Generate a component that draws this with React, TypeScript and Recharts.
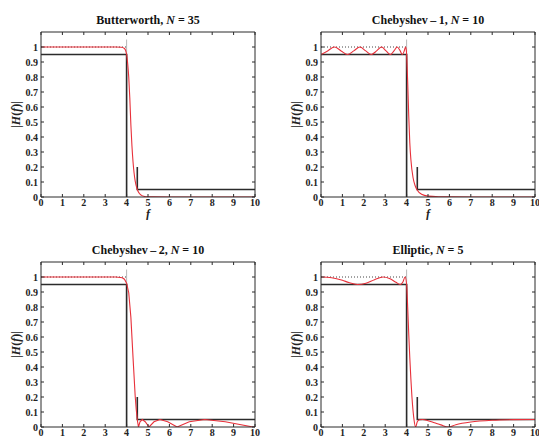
import React from 'react';
import { LineChart, Line, XAxis, YAxis } from 'recharts';

// spec mask shared by all four panels
const passMaskF = [0, 4, 4];
const passMaskH = [0.95, 0.95, 0];
const stopMaskF = [4.5, 4.5, 10];
const stopMaskH = [0.2, 0.05, 0.05];
const unityF = [0, 4];
const unityH = [1, 1];
const edgeF = [4, 4];
const edgeH = [0, 1.05];

// filter responses
const butterF = [0, 1, 2, 3, 3.5, 3.75, 3.9, 4.0, 4.05, 4.1, 4.15, 4.2, 4.25, 4.3, 4.35, 4.4, 4.5, 4.6, 4.7, 4.8, 5, 6, 8, 10];
const butterH = [1, 1, 1, 1, 1, 0.998, 0.99, 0.95, 0.89, 0.8, 0.66, 0.48, 0.34, 0.235, 0.16, 0.108, 0.05, 0.023, 0.011, 0.005, 0.001, 0, 0, 0];

const cheb1F = [0, 0.31, 0.63, 0.94, 1.24, 1.53, 1.82, 2.09, 2.35, 2.6, 2.83, 3.04, 3.24, 3.41, 3.56, 3.7, 3.8, 3.89, 3.95, 3.99, 4.0, 4.05, 4.1, 4.15, 4.2, 4.3, 4.4, 4.5, 4.7, 5.0, 5.5, 6, 8, 10];
const cheb1H = [0.95, 0.974, 1, 0.974, 0.95, 0.974, 1, 0.974, 0.95, 0.974, 1, 0.974, 0.95, 0.974, 1, 0.974, 0.95, 0.974, 1, 0.974, 0.95, 0.77, 0.54, 0.36, 0.25, 0.13, 0.075, 0.045, 0.018, 0.006, 0.002, 0.001, 0, 0];

const cheb2F = [0, 2, 3, 3.5, 3.8, 3.9, 4.0, 4.1, 4.2, 4.3, 4.4, 4.45, 4.5, 4.514, 4.556, 4.626, 4.732, 4.87, 5.05, 5.28, 5.56, 5.92, 6.36, 6.93, 7.65, 8.61, 9.91, 10];
const cheb2H = [1, 1, 1, 0.9998, 0.995, 0.985, 0.959, 0.895, 0.731, 0.464, 0.208, 0.117, 0.05, 0.035, 0, 0.035, 0.05, 0.035, 0, 0.035, 0.05, 0.035, 0, 0.035, 0.05, 0.035, 0, 0.002];

const ellipF = [0, 0.5, 1.0, 1.3, 1.7, 2.1, 2.5, 2.9, 3.2, 3.5, 3.7, 3.82, 3.93, 4.0, 4.05, 4.1, 4.15, 4.2, 4.25, 4.3, 4.35, 4.42, 4.5, 4.6, 4.75, 5.0, 5.3, 5.6, 5.95, 6.3, 7, 8, 9, 10];
const ellipH = [1, 0.995, 0.978, 0.963, 0.95, 0.958, 0.982, 1, 0.99, 0.965, 0.95, 0.965, 1, 0.95, 0.8, 0.62, 0.46, 0.32, 0.2, 0.11, 0.045, 0, 0.035, 0.048, 0.05, 0.042, 0.028, 0.014, 0, 0.015, 0.033, 0.045, 0.049, 0.05];

const xTicks = [0, 1, 2, 3, 4, 5, 6, 7, 8, 9, 10];
const yTicks = [0, 0.1, 0.2, 0.3, 0.4, 0.5, 0.6, 0.7, 0.8, 0.9, 1];

const zip = (f: number[], h: number[]) => f.map((x, i) => ({ f: x, h: h[i] }));

const FONT = '"Liberation Serif", "DejaVu Serif", serif';
const RED = '#e8303a';
const INK = '#2b2b2b';
const W = 270;
const H = 220;
const YW = 30;
const XH = 12;

const panels = [
  { name: 'Butterworth', n: '35', f: butterF, h: butterH, curve: 'monotone', x: 0, y: 0, left: 41, right: 255, top: 32, bottom: 197, showF: true },
  { name: 'Chebyshev\u2009\u2013\u20091', n: '10', f: cheb1F, h: cheb1H, curve: 'monotone', x: 270, y: 0, left: 51, right: 265, top: 32, bottom: 197, showF: true },
  { name: 'Chebyshev\u2009\u2013\u20092', n: '10', f: cheb2F, h: cheb2H, curve: 'linear', x: 0, y: 220, left: 41, right: 255, top: 42, bottom: 207, showF: false },
  { name: 'Elliptic', n: '5', f: ellipF, h: ellipH, curve: 'monotone', x: 270, y: 220, left: 51, right: 265, top: 42, bottom: 207, showF: false },
];

const tickStyle = { fontFamily: FONT, fontSize: 10, fontWeight: 700, fill: '#222' };

function Panel({ p }: { p: (typeof panels)[number] }) {
  const margin = { left: p.left - YW, right: W - p.right - 1, top: p.top - 1, bottom: H - p.bottom - XH };
  const cx = (p.left + p.right) / 2;
  const cy = (p.top + p.bottom) / 2;
  const ly = p.left - 24;
  return (
    <div style={{ position: 'absolute', left: p.x, top: p.y, width: W, height: H }}>
      <LineChart width={W} height={H} margin={margin} style={{ overflow: 'visible' }}>
        <XAxis
          dataKey="f"
          type="number"
          domain={[0, 10]}
          ticks={xTicks}
          interval={0}
          allowDataOverflow
          height={XH}
          stroke={INK}
          tickSize={-3}
          tickMargin={5}
          tick={tickStyle}
          tickLine={{ stroke: INK }}
          label={{
            content: () =>
              p.showF ? (
                <text x={cx} y={p.bottom + 21} textAnchor="middle" fontFamily={FONT} fontSize={12} fontStyle="italic" fontWeight={700} fill="#222">
                  f
                </text>
              ) : null,
          }}
        />
        <XAxis
          xAxisId="top"
          dataKey="f"
          orientation="top"
          type="number"
          domain={[0, 10]}
          ticks={xTicks}
          interval={0}
          allowDataOverflow
          height={1}
          stroke={INK}
          tickSize={-3}
          tickFormatter={() => ''}
          tickLine={{ stroke: INK }}
        />
        <YAxis
          type="number"
          domain={[0, 1.1]}
          ticks={yTicks}
          interval={0}
          allowDataOverflow
          width={YW}
          stroke={INK}
          tickSize={-3}
          tickMargin={6}
          tick={tickStyle}
          tickLine={{ stroke: INK }}
          label={{
            content: () => (
              <text
                x={ly}
                y={cy}
                transform={`rotate(-90, ${ly}, ${cy})`}
                textAnchor="middle"
                dominantBaseline="middle"
                fontFamily={FONT}
                fontSize={12}
                fontWeight={700}
                fill="#222"
              >
                |<tspan fontStyle="italic">H</tspan>(<tspan fontStyle="italic">f</tspan>)|
              </text>
            ),
          }}
        />
        <YAxis
          yAxisId="right"
          orientation="right"
          type="number"
          domain={[0, 1.1]}
          ticks={yTicks}
          interval={0}
          allowDataOverflow
          width={1}
          stroke={INK}
          tickSize={-3}
          tickFormatter={() => ''}
          tickLine={{ stroke: INK }}
        />
        {/* invisible series so the top and right frame axes get drawn */}
        <Line xAxisId="top" yAxisId="right" data={zip(edgeF, edgeH)} dataKey="h" stroke="none" dot={false} activeDot={false} isAnimationActive={false} />
        <Line data={zip(edgeF, edgeH)} dataKey="h" stroke="#b8b8b8" strokeWidth={1} dot={false} activeDot={false} isAnimationActive={false} />
        <Line data={zip(unityF, unityH)} dataKey="h" stroke="#444" strokeWidth={1} strokeDasharray="1 2" dot={false} activeDot={false} isAnimationActive={false} />
        <Line data={zip(passMaskF, passMaskH)} dataKey="h" stroke={INK} strokeWidth={1.6} dot={false} activeDot={false} isAnimationActive={false} />
        <Line data={zip(stopMaskF, stopMaskH)} dataKey="h" stroke={INK} strokeWidth={1.6} dot={false} activeDot={false} isAnimationActive={false} />
        <Line type={p.curve as any} data={zip(p.f, p.h)} dataKey="h" stroke={RED} strokeWidth={1.1} dot={false} activeDot={false} isAnimationActive={false} />
      </LineChart>
      <div
        style={{
          position: 'absolute',
          left: p.left,
          width: p.right - p.left,
          top: p.top - 19,
          textAlign: 'center',
          fontFamily: FONT,
          fontSize: 12,
          fontWeight: 700,
          color: '#111',
          lineHeight: '14px',
          whiteSpace: 'nowrap',
        }}
      >
        {p.name}, <i>N</i> = {p.n}
      </div>
    </div>
  );
}

export default function App() {
  return (
    <div style={{ position: 'absolute', left: 0, top: 0, width: 539, height: 439, background: '#fff', overflow: 'hidden' }}>
      {panels.map((p) => (
        <Panel key={p.name} p={p} />
      ))}
    </div>
  );
}
